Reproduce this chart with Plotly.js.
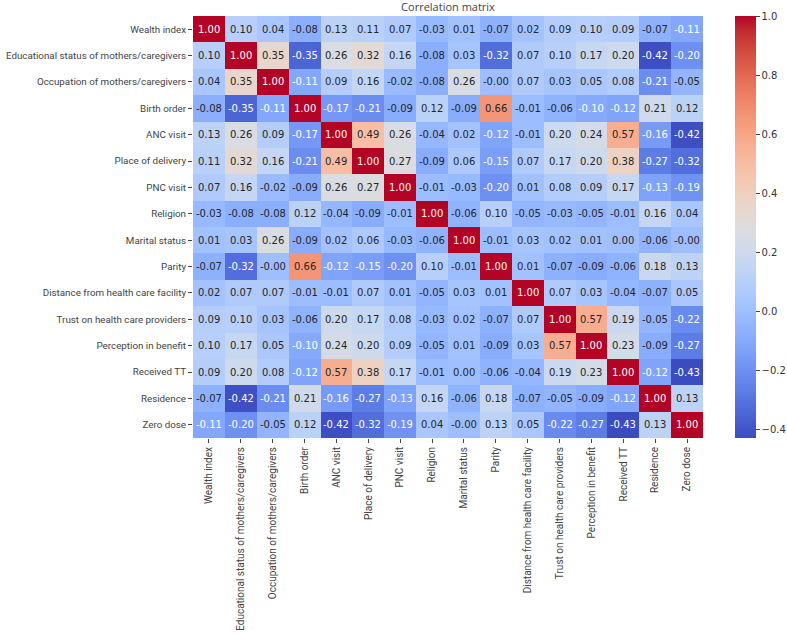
<!DOCTYPE html>
<html>
<head>
<meta charset="utf-8">
<script src="https://cdn.plot.ly/plotly-3.0.1.min.js"></script>
<style>html,body{margin:0;padding:0;background:#fff;}#chart{width:787px;height:634px;}</style>
</head>
<body>
<div id="chart"></div>
<script>
const variables = [
  "Wealth index",
  "Educational status of mothers/caregivers",
  "Occupation of mothers/caregivers",
  "Birth order",
  "ANC visit",
  "Place of delivery",
  "PNC visit",
  "Religion",
  "Marital status",
  "Parity",
  "Distance from health care facility",
  "Trust on health care providers",
  "Perception in benefit",
  "Received TT",
  "Residence",
  "Zero dose"
];

const rowWealth      = [1.00, 0.10, 0.04, -0.08, 0.13, 0.11, 0.07, -0.03, 0.01, -0.07, 0.02, 0.09, 0.10, 0.09, -0.07, -0.11];
const rowEducation   = [0.10, 1.00, 0.35, -0.35, 0.26, 0.32, 0.16, -0.08, 0.03, -0.32, 0.07, 0.10, 0.17, 0.20, -0.42, -0.20];
const rowOccupation  = [0.04, 0.35, 1.00, -0.11, 0.09, 0.16, -0.02, -0.08, 0.26, -0.004, 0.07, 0.03, 0.05, 0.08, -0.21, -0.05];
const rowBirthOrder  = [-0.08, -0.35, -0.11, 1.00, -0.17, -0.21, -0.09, 0.12, -0.09, 0.66, -0.01, -0.06, -0.10, -0.12, 0.21, 0.12];
const rowANC         = [0.13, 0.26, 0.09, -0.17, 1.00, 0.49, 0.26, -0.04, 0.02, -0.12, -0.01, 0.20, 0.24, 0.57, -0.16, -0.42];
const rowPlace       = [0.11, 0.32, 0.16, -0.21, 0.49, 1.00, 0.27, -0.09, 0.06, -0.15, 0.07, 0.17, 0.20, 0.38, -0.27, -0.32];
const rowPNC         = [0.07, 0.16, -0.02, -0.09, 0.26, 0.27, 1.00, -0.01, -0.03, -0.20, 0.01, 0.08, 0.09, 0.17, -0.13, -0.19];
const rowReligion    = [-0.03, -0.08, -0.08, 0.12, -0.04, -0.09, -0.01, 1.00, -0.06, 0.10, -0.05, -0.03, -0.05, -0.01, 0.16, 0.04];
const rowMarital     = [0.01, 0.03, 0.26, -0.09, 0.02, 0.06, -0.03, -0.06, 1.00, -0.01, 0.03, 0.02, 0.01, 0.00, -0.06, -0.004];
const rowParity      = [-0.07, -0.32, -0.004, 0.66, -0.12, -0.15, -0.20, 0.10, -0.01, 1.00, 0.01, -0.07, -0.09, -0.06, 0.18, 0.13];
const rowDistance    = [0.02, 0.07, 0.07, -0.01, -0.01, 0.07, 0.01, -0.05, 0.03, 0.01, 1.00, 0.07, 0.03, -0.04, -0.07, 0.05];
const rowTrust       = [0.09, 0.10, 0.03, -0.06, 0.20, 0.17, 0.08, -0.03, 0.02, -0.07, 0.07, 1.00, 0.57, 0.19, -0.05, -0.22];
const rowPerception  = [0.10, 0.17, 0.05, -0.10, 0.24, 0.20, 0.09, -0.05, 0.01, -0.09, 0.03, 0.57, 1.00, 0.23, -0.09, -0.27];
const rowReceivedTT  = [0.09, 0.20, 0.08, -0.12, 0.57, 0.38, 0.17, -0.01, 0.00, -0.06, -0.04, 0.19, 0.23, 1.00, -0.12, -0.43];
const rowResidence   = [-0.07, -0.42, -0.21, 0.21, -0.16, -0.27, -0.13, 0.16, -0.06, 0.18, -0.07, -0.05, -0.09, -0.12, 1.00, 0.13];
const rowZeroDose    = [-0.11, -0.20, -0.05, 0.12, -0.42, -0.32, -0.19, 0.04, -0.004, 0.13, 0.05, -0.22, -0.27, -0.43, 0.13, 1.00];

const matrix = [rowWealth, rowEducation, rowOccupation, rowBirthOrder, rowANC, rowPlace, rowPNC,
  rowReligion, rowMarital, rowParity, rowDistance, rowTrust, rowPerception, rowReceivedTT,
  rowResidence, rowZeroDose];

const colorbarTicks = [-0.4, -0.2, 0.0, 0.2, 0.4, 0.6, 0.8, 1.0];

// matplotlib "coolwarm"
const coolwarm = [
 [0.0,[59,76,192]],[0.03125,[68,90,204]],[0.0625,[77,104,215]],[0.09375,[87,117,225]],
 [0.125,[98,130,234]],[0.15625,[108,142,241]],[0.1875,[119,154,247]],[0.21875,[130,165,251]],
 [0.25,[141,176,254]],[0.28125,[152,185,255]],[0.3125,[163,194,255]],[0.34375,[174,201,253]],
 [0.375,[184,208,249]],[0.40625,[194,213,244]],[0.4375,[204,217,238]],[0.46875,[213,219,230]],
 [0.5,[221,221,221]],[0.53125,[229,216,209]],[0.5625,[236,211,197]],[0.59375,[241,204,185]],
 [0.625,[245,196,173]],[0.65625,[247,187,160]],[0.6875,[247,177,148]],[0.71875,[247,166,135]],
 [0.75,[244,154,123]],[0.78125,[241,141,111]],[0.8125,[236,127,99]],[0.84375,[229,112,88]],
 [0.875,[222,96,77]],[0.90625,[213,80,66]],[0.9375,[203,62,56]],[0.96875,[192,40,47]],
 [1.0,[180,4,38]]
];
const colorscale = coolwarm.map(s => [s[0], 'rgb(' + s[1].join(',') + ')']);

let zmin = Infinity, zmax = -Infinity;
matrix.forEach(r => r.forEach(v => { zmin = Math.min(zmin, v); zmax = Math.max(zmax, v); }));

function cmap(t) {
  t = Math.max(0, Math.min(1, t));
  for (let i = 1; i < coolwarm.length; i++) {
    if (t <= coolwarm[i][0]) {
      const a = coolwarm[i-1], b = coolwarm[i];
      const f = (t - a[0]) / (b[0] - a[0]);
      return a[1].map((c, k) => c + f * (b[1][k] - c));
    }
  }
  return coolwarm[coolwarm.length-1][1];
}
function lum(rgb) {
  const l = rgb.map(c => { c /= 255; return c <= 0.03928 ? c / 12.92 : Math.pow((c + 0.055) / 1.055, 2.4); });
  return 0.2126 * l[0] + 0.7152 * l[1] + 0.0722 * l[2];
}

const annotations = [];
matrix.forEach((row, i) => {
  row.forEach((v, j) => {
    const c = cmap((v - zmin) / (zmax - zmin));
    annotations.push({
      x: variables[j], y: variables[i], xref: 'x', yref: 'y',
      text: v.toFixed(2), showarrow: false,
      font: {family: 'DejaVu Sans', size: 10, color: lum(c) > 0.408 ? '#262626' : '#ffffff'}
    });
  });
});

const trace = {
  type: 'heatmap',
  z: matrix, x: variables, y: variables,
  zmin: zmin, zmax: zmax,
  colorscale: colorscale,
  xgap: 0, ygap: 0,
  colorbar: {
    x: 1.063, xanchor: 'left', xref: 'paper',
    y: 0.5, yanchor: 'middle', len: 1, lenmode: 'fraction',
    thickness: 21, outlinewidth: 0, xpad: 0, ypad: 0,
    tickvals: colorbarTicks,
    ticktext: colorbarTicks.map(t => t.toFixed(1).replace('-', '\u2212')),
    ticks: 'outside', ticklen: 4, tickwidth: 1, tickcolor: '#444',
    tickfont: {family: 'DejaVu Sans', size: 10, color: '#333'}
  }
};

const layout = {
  width: 787, height: 634,
  margin: {l: 193, r: 84, t: 16, b: 196, autoexpand: false},
  paper_bgcolor: '#fff', plot_bgcolor: '#fff',
  title: {text: 'Correlation matrix', x: 0.5, xanchor: 'center', xref: 'paper',
          y: 0.989, yanchor: 'middle', yref: 'container',
          font: {family: 'Open Sans', size: 11, color: '#444'}},
  xaxis: {
    type: 'category', tickangle: -90, ticks: 'outside', ticklen: 4, tickcolor: '#444',
    showgrid: false, zeroline: false, showline: false, automargin: false,
    tickfont: {family: 'Roboto', size: 10, color: '#444'}
  },
  yaxis: {
    type: 'category', autorange: 'reversed', ticks: 'outside', ticklen: 4, tickcolor: '#444',
    showgrid: false, zeroline: false, showline: false, automargin: false,
    tickfont: {family: 'Roboto', size: 9.8, color: '#444'}
  },
  annotations: annotations
};

Plotly.newPlot('chart', [trace], layout, {displayModeBar: false, staticPlot: true});
</script>
</body>
</html>
